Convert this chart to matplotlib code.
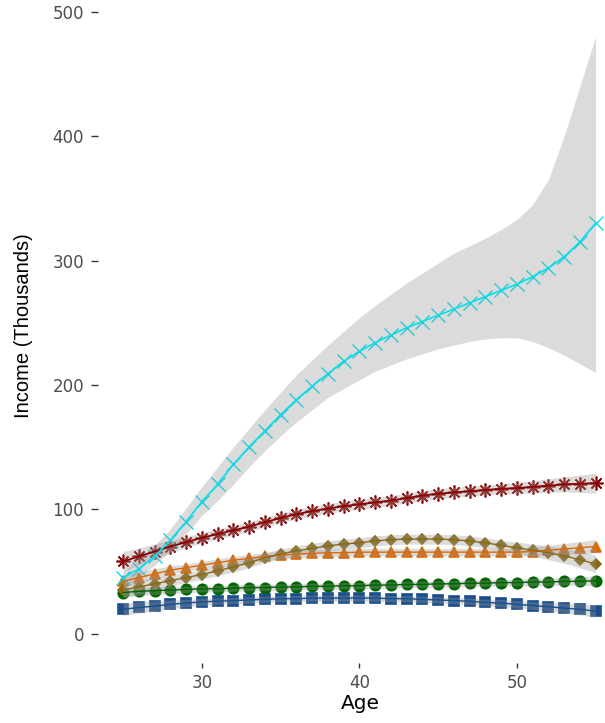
import matplotlib.pyplot as plt
import numpy as np

plt.rcParams['font.family'] = ['DejaVu Sans']

ages = np.arange(25, 56)

# smoothed income by group (thousands)
blue_sq = [19.5, 21, 22, 23.5, 24.5, 25.5, 26, 26.5, 27, 27.5, 28, 28, 28.5, 28.5, 28.5, 28.5,
           28.5, 28, 28, 27.5, 27, 26.5, 26, 25, 24.5, 23.5, 22.5, 21.5, 20.5, 19.5, 18]
green_ci = [33, 34, 34.5, 35, 35.5, 36, 36, 36.5, 37, 37, 37.5, 37.5, 38, 38, 38.5, 38.5,
            39, 39, 39.5, 39.5, 40, 40, 40.5, 40.5, 41, 41, 41.5, 41.5, 42, 42, 42.5]
orange_tri = [42, 45, 48, 51, 53, 55, 57, 59, 60.5, 62, 63, 64, 64.5, 65, 65, 65.5,
              65.5, 65.5, 65.5, 65.5, 65.5, 65.5, 65.5, 65.5, 65.5, 65.5, 66, 67, 68, 69, 70]
brown_dia = [35, 37.5, 40, 42.5, 45, 47.5, 50.5, 53.5, 57, 61, 64, 66.5, 68.5, 70.5, 72, 73,
             74.5, 75.5, 76, 76, 76, 75.5, 74.5, 73, 71, 69, 67, 65, 62.5, 59.5, 56]
red_star = [58, 62, 66, 70, 73.5, 77, 80, 83, 86, 89.5, 93, 96, 98.5, 100.5, 102.5, 104,
            105.5, 107, 109, 111, 112.5, 113.5, 114.5, 115.5, 116.5, 117, 118, 119, 120, 120.5, 121]
cyan_x = [45, 52, 62, 75, 90, 106, 120, 136, 150, 163, 176, 188, 199, 209, 219, 227,
          234, 240, 246, 251, 256, 261, 266, 271, 276, 281, 287, 294, 303, 315, 330]

# confidence band for the top group
cyan_hi = [50, 60, 71, 84, 101, 118, 134, 150, 165, 180, 194, 208, 220, 232, 243, 254,
           264, 273, 282, 290, 298, 306, 312, 318, 325, 333, 345, 365, 400, 440, 480]
cyan_lo = [38, 45, 55, 66, 80, 95, 107, 120, 134, 147, 159, 170, 180, 190, 197, 204,
           211, 216, 221, 225, 229, 232, 235, 237, 238, 238, 235, 230, 224, 217, 210]

# half-widths of the bands for the other groups
blue_se = [5, 4.5, 4, 3.5, 3, 3, 2.5, 2.5, 2.5, 2.5, 2.5, 2.5, 2.5, 2.5, 2.5, 2.5,
           2.5, 2.5, 2.5, 2.5, 2.5, 2.5, 2.5, 2.5, 3, 3, 3, 3.5, 4, 4.5, 5]
green_se = [4, 3.5, 3, 3, 2.5, 2.5, 2.5, 2.5, 2.5, 2.5, 2.5, 2.5, 2.5, 2.5, 2.5, 2.5,
            2.5, 2.5, 2.5, 2.5, 2.5, 2.5, 2.5, 2.5, 2.5, 2.5, 3, 3, 3, 3.5, 4]
orange_se = [5, 4.5, 4, 3.5, 3, 3, 3, 3, 3, 3, 3, 3, 3, 3, 3, 3,
             3, 3, 3, 3, 3, 3, 3, 3, 3, 3, 3.5, 4, 4.5, 5, 5.5]
brown_se = [6, 5.5, 5, 4.5, 4, 4, 4, 4, 4, 4, 4, 4, 4, 4, 4, 4,
            4, 4, 4, 4, 4, 4, 4, 4, 4, 4.5, 5, 5.5, 6, 6.5, 7]
red_se = [8, 7, 6, 5, 4.5, 4, 4, 4, 4, 4, 4, 4, 4, 4, 4, 4,
          4, 4, 4, 4, 4, 4, 4, 4, 4, 4.5, 5, 5.5, 6, 7, 8]

groups = [
    (blue_sq, blue_se, '#1A4E8C', 's', 7, 1.0),
    (green_ci, green_se, '#006400', 'o', 7.5, 1.0),
    (orange_tri, orange_se, '#DB6A05', '^', 7.5, 1.0),
    (brown_dia, brown_se, '#8B6914', 'D', 5.5, 1.0),
    (red_star, red_se, '#8B0000', (8, 2, 0), 10, 1.3),
]

fig = plt.figure(figsize=(6.05, 7.23), dpi=100)
ax = fig.add_axes([98 / 605, 60 / 723, 507 / 605, 663 / 723])

band = dict(color='#999999', alpha=0.35, linewidth=0, zorder=3)

for vals, se, col, mk, ms, lw in groups:
    v = np.array(vals)
    s = np.array(se)
    ax.plot(ages, v, linestyle='none', marker=mk, markersize=ms, color=col,
            markeredgewidth=1.2, zorder=2)
    ax.fill_between(ages, v - s, v + s, **band)
    ax.plot(ages, v, color=col, linewidth=lw, zorder=4)

ax.plot(ages, cyan_x, linestyle='none', marker='x', markersize=10, color='#00E0EE',
        markeredgewidth=1.0, zorder=2)
ax.fill_between(ages, cyan_lo, cyan_hi, **band)
ax.plot(ages, cyan_x, color='#00E0EE', linewidth=1.2, zorder=4)

ax.set_xlim(23.41, 55.6)
ax.set_ylim(-23.7, 509.7)
ax.set_xticks([30, 40, 50])
ax.set_yticks([0, 100, 200, 300, 400, 500])

for sp in ax.spines.values():
    sp.set_visible(False)
ax.tick_params(colors='#333333', labelcolor='#4D4D4D', labelsize=12, width=1.0)
ax.tick_params(axis='y', length=5, pad=5)
ax.tick_params(axis='x', length=3.5, pad=4.5)

ax.set_xlabel('Age', fontsize=14.5, color='black')
ax.set_ylabel('Income (Thousands)', fontsize=14.5, color='black', family='Liberation Sans')
ax.xaxis.set_label_coords((360 - 98) / 507, -31 / 663)
ax.yaxis.set_label_coords(-(98 - 33) / 507, (663 - 326) / 663)

fig.savefig('out.png', dpi=100)
